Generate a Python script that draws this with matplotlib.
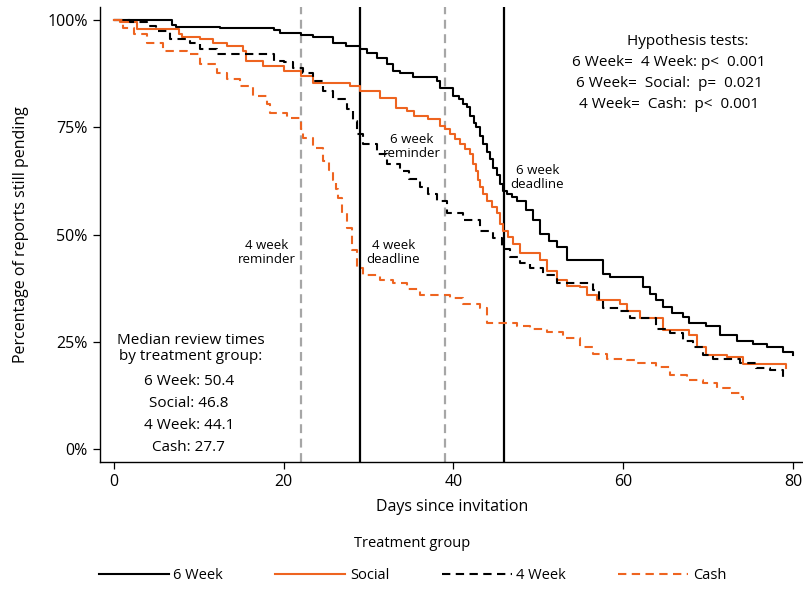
import matplotlib
matplotlib.use('Agg')
import matplotlib.pyplot as plt
from matplotlib.lines import Line2D

plt.rcParams['font.family'] = ['Open Sans', 'DejaVu Sans']

# survival curves: day of drop, share still pending (%)
six_week_day = [0, 6.8, 7.3, 12.5, 18.8, 19.5, 22.0, 23.5, 25.8, 27.3, 29.0, 29.8, 31.0, 32.2, 32.9,
                33.7, 35.2, 38.0, 38.4, 40.0, 40.6, 41.1, 41.6, 42.0, 42.4, 42.7, 43.1, 43.5,
                43.9, 44.3, 44.7, 45.1, 45.5, 45.8, 46.3, 46.9, 47.5, 48.6, 49.4, 50.2, 51.2,
                52.2, 53.4, 57.6, 58.4, 62.3, 63.1, 63.9, 64.7, 65.8, 67.0, 67.8, 69.8, 71.4,
                73.4, 75.3, 76.9, 78.8, 80.0]
six_week_pct = [100, 98.8, 98.4, 98.0, 97.6, 97.0, 96.4, 95.9, 94.7, 94.0, 93.2, 92.4, 91.2, 89.7,
                88.1, 87.7, 86.6, 85.8, 84.1, 82.3, 81.5, 80.5, 79.6, 77.5, 76.0, 75.0, 73.0,
                71.1, 69.2, 67.5, 65.6, 63.8, 61.8, 60.2, 59.5, 58.7, 57.9, 55.6, 53.3, 50.2,
                48.6, 47.0, 44.0, 40.9, 40.0, 37.7, 36.2, 34.7, 33.0, 31.8, 30.7, 29.5, 28.8,
                26.5, 25.3, 24.6, 23.7, 22.6, 21.9]

social_day = [0, 0.7, 2.7, 7.6, 8.0, 10.1, 11.7, 13.3, 15.2, 15.6, 17.6, 20.0, 22.0, 23.5, 27.8,
              29.0, 31.3, 33.2, 34.5, 35.4, 37.0, 38.4, 39.0, 39.6, 40.2, 40.8, 41.4, 42.0, 42.3,
              42.6, 42.9, 43.1, 43.5, 43.9, 44.5, 45.1, 45.5, 45.8, 46.4, 47.0, 47.8, 50.2, 51.0,
              52.2, 53.4, 54.9, 55.7, 56.9, 59.6, 60.4, 62.0, 64.7, 67.8, 68.7, 69.8, 72.2, 74.1,
              79.2]
social_pct = [100, 99.4, 97.8, 96.7, 95.9, 95.5, 94.7, 94.0, 92.8, 90.5, 89.3, 88.1, 87.0, 85.4,
              84.7, 83.5, 81.9, 79.5, 78.8, 77.7, 76.8, 75.3, 74.5, 73.4, 72.3, 71.1, 70.0, 68.8,
              66.5, 64.9, 62.8, 61.0, 59.5, 57.9, 56.5, 54.9, 52.5, 50.9, 49.5, 47.9, 45.6, 44.0,
              41.6, 39.3, 38.1, 37.7, 35.8, 34.7, 33.9, 32.3, 30.5, 27.7, 26.5, 23.7, 21.9, 21.4,
              19.8, 18.8]

four_week_day = [0, 1.9, 3.9, 5.0, 6.6, 9.0, 10.1, 12.1, 18.8, 20.0, 21.1, 22.3, 23.5, 24.6, 25.8,
                 27.4, 28.2, 28.6, 29.3, 31.0, 32.2, 33.7, 34.8, 36.0, 37.0, 38.0, 39.2, 41.1,
                 43.1, 44.7, 45.7, 46.6, 47.8, 49.0, 50.6, 52.2, 53.7, 56.4, 57.2, 57.6, 59.6,
                 60.8, 63.9, 65.5, 67.0, 68.2, 69.4, 70.6, 73.7, 75.7, 77.3, 78.8]
four_week_pct = [100, 99.4, 98.6, 97.3, 95.5, 94.7, 93.2, 92.0, 90.5, 90.1, 88.8, 87.7, 85.8, 83.5,
                 81.5, 79.2, 76.5, 73.4, 71.1, 68.8, 66.5, 64.9, 63.0, 61.0, 59.5, 57.9, 55.1,
                 53.3, 50.9, 49.3, 46.7, 44.7, 43.3, 42.1, 40.5, 38.8, 38.6, 37.0, 34.7, 32.8,
                 32.3, 30.5, 28.1, 27.0, 25.3, 23.7, 21.9, 21.1, 20.0, 18.8, 18.4, 16.7]

cash_day = [0, 1.1, 2.3, 3.9, 5.8, 8.6, 10.1, 12.1, 13.3, 14.8, 16.4, 18.0, 18.4, 20.4, 22.0,
            22.3, 23.5, 24.6, 25.3, 25.8, 26.1, 26.4, 26.9, 27.4, 28.0, 28.6, 29.3, 31.3, 32.9,
            34.5, 36.0, 39.6, 41.1, 43.1, 43.9, 47.5, 49.0, 51.0, 52.9, 54.9, 56.4, 58.1, 60.4,
            61.6, 63.9, 65.5, 67.5, 69.4, 71.0, 72.6, 73.7, 74.1]
cash_pct = [100, 98.1, 96.7, 94.7, 92.8, 92.0, 89.7, 87.7, 86.2, 84.7, 82.3, 80.4, 78.4, 77.2,
            74.6, 72.6, 70.2, 67.2, 65.0, 62.6, 60.5, 58.6, 55.0, 51.6, 46.3, 42.3, 40.5, 39.5,
            38.6, 37.2, 35.8, 35.1, 33.9, 32.8, 29.5, 28.8, 28.1, 27.2, 26.0, 23.7, 22.1, 21.1,
            20.7, 20.0, 19.1, 17.2, 16.0, 15.3, 14.2, 13.0, 12.1, 11.4]

reminder_days = [22, 39]
deadline_days = [29, 46]
medians = [('6 Week', 50.4), ('Social', 46.8), ('4 Week', 44.1), ('Cash', 27.7)]
tests = ['6 Week=  4 Week: p<  0.001', '6 Week=  Social:  p=  0.021', '4 Week=  Cash:  p<  0.001']

black = 'black'
orange = '#ee6420'
dash = (0, (4, 2.6))

fig = plt.figure(figsize=(8.04, 5.9), dpi=100)
ax = fig.add_axes([0.1244, 0.2169, 0.8756, 0.7712])

for d in reminder_days:
    ax.axvline(d, color='#a6a6a6', lw=1.6, ls=(0, (4, 2.5)), zorder=1)
for d in deadline_days:
    ax.axvline(d, color=black, lw=1.6, zorder=1)

ax.step(six_week_day, six_week_pct, where='post', color=black, lw=1.5)
ax.step(social_day, social_pct, where='post', color=orange, lw=1.5)
ax.step(four_week_day, four_week_pct, where='post', color=black, lw=1.5, ls=dash)
ax.step(cash_day, cash_pct, where='post', color=orange, lw=1.5, ls=dash)

ax.set_xlim(-1.65, 81.3)
ax.set_ylim(-3.0, 103.0)
ax.set_xticks([0, 20, 40, 60, 80])
ax.set_yticks([0, 25, 50, 75, 100])
ax.set_yticklabels(['0%', '25%', '50%', '75%', '100%'])
ax.tick_params(labelsize=11.5, length=5.3, width=0.9, direction='out')
for s in ['top', 'right']:
    ax.spines[s].set_visible(False)
for s in ['left', 'bottom']:
    ax.spines[s].set_linewidth(1.0)
ax.set_xlabel('Days since invitation', fontsize=11.5, labelpad=6)
ax.set_ylabel('Percentage of reports still pending', fontsize=11.5, labelpad=13)

# event labels
fs_ev = 9.5
ax.text(18.0, 45.9, '4 week\nreminder', ha='center', va='center', fontsize=fs_ev, linespacing=1.1)
ax.text(32.9, 45.9, '4 week\ndeadline', ha='center', va='center', fontsize=fs_ev, linespacing=1.1)
ax.text(35.1, 70.4, '6 week\nreminder', ha='center', va='center', fontsize=fs_ev, linespacing=1.1)
ax.text(49.9, 63.2, '6 week\ndeadline', ha='center', va='center', fontsize=fs_ev, linespacing=1.1)

# hypothesis tests
fs_note = 11
ax.text(67.6, 95.0, 'Hypothesis tests:', ha='center', va='center', fontsize=fs_note)
for i, t in enumerate(tests):
    ax.text(65.4, 90.1 - 4.9 * i, t, ha='center', va='center', fontsize=fs_note)

# median review times
ax.text(9.0, 23.5, 'Median review times\nby treatment group:', ha='center', va='center',
        fontsize=fs_note, linespacing=1.1)
for i, (g, m) in enumerate(medians):
    ax.text(8.8, 15.7 - 5.1 * i, f'{g}: {m}', ha='center', va='center', fontsize=fs_note)

handles = [Line2D([], [], color=black, lw=1.5),
           Line2D([], [], color=orange, lw=1.5),
           Line2D([], [], color=black, lw=1.5, ls=dash),
           Line2D([], [], color=orange, lw=1.5, ls=dash)]
leg = fig.legend(handles, ['6 Week', 'Social', '4 Week', 'Cash'], loc='lower center',
                 bbox_to_anchor=(0.513, -0.01), ncol=4, frameon=False, fontsize=10.5,
                 title='Treatment group', title_fontsize=10.5, handlelength=4.8,
                 handletextpad=0.3, columnspacing=3.6)
leg._legend_box.sep = 12

fig.savefig('out.png', dpi=100)
